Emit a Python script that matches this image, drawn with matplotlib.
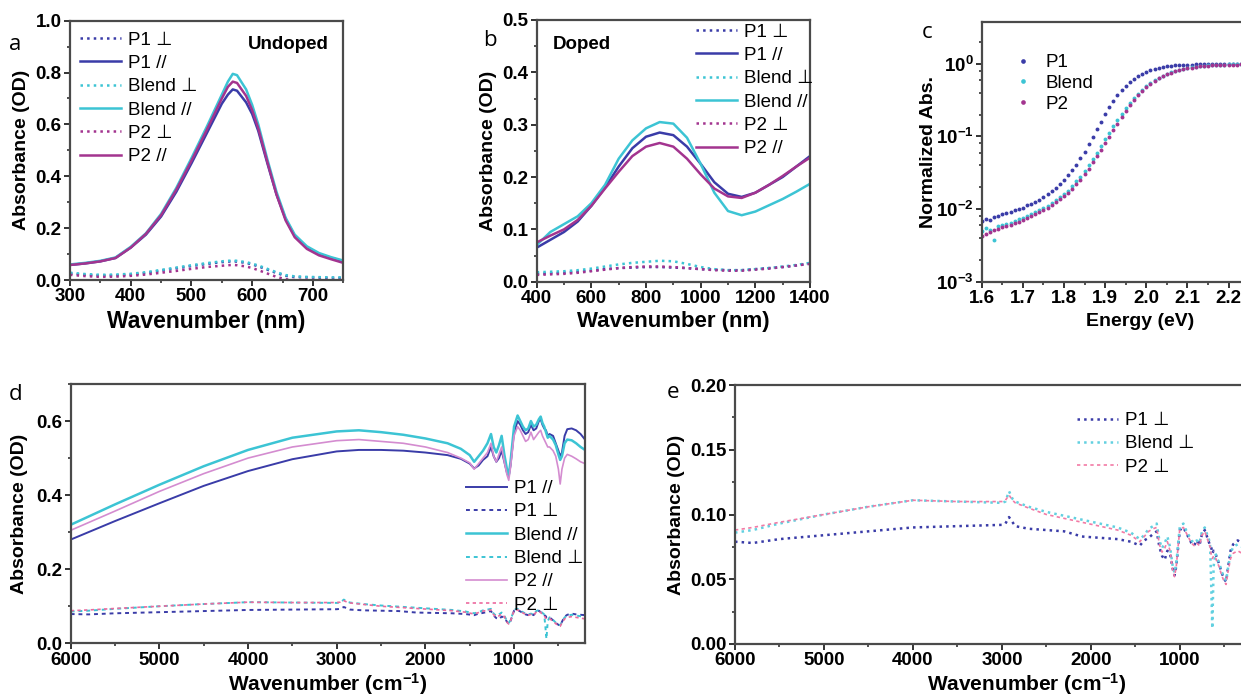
import numpy as np
import matplotlib
matplotlib.use("Agg")
import matplotlib.pyplot as plt
from matplotlib.ticker import MultipleLocator, LogLocator, NullFormatter

# ============================================================
# DATA
# ============================================================
# --- a: undoped UV-vis ---
a_wl = [300, 325, 350, 375, 400, 425, 450, 475, 500, 525, 550, 560, 568, 575, 590, 600, 610, 625, 640, 655, 670, 690, 710, 730, 750]
a_p1_par = [.058, .064, .072, .085, .125, .175, .245, .340, .450, .565, .680, .715, .735, .730, .685, .640, .575, .450, .330, .235, .170, .125, .100, .085, .072]
a_blend_par = [.060, .066, .074, .087, .128, .180, .255, .355, .470, .590, .715, .765, .795, .790, .735, .675, .600, .465, .340, .240, .175, .130, .104, .088, .075]
a_p2_par = [.058, .064, .072, .085, .125, .178, .250, .348, .460, .578, .700, .745, .765, .760, .710, .655, .585, .455, .330, .230, .165, .120, .095, .080, .066]
a_p1_perp = [.025, .020, .017, .018, .021, .027, .036, .045, .054, .062, .069, .071, .072, .071, .066, .060, .053, .040, .027, .016, .012, .010, .009, .008, .008]
a_blend_perp = [.028, .023, .020, .021, .024, .030, .039, .048, .057, .065, .072, .074, .075, .074, .069, .063, .056, .043, .030, .019, .014, .012, .011, .010, .010]
a_p2_perp = [.020, .015, .012, .013, .016, .021, .028, .035, .043, .050, .055, .057, .058, .057, .052, .046, .038, .025, .012, .003, 0.0, 0.0, 0.0, 0.0, 0.0]

# --- b: doped UV-vis-NIR ---
b_wl = [400, 450, 500, 550, 600, 650, 700, 750, 800, 850, 900, 950, 1000, 1050, 1100, 1150, 1200, 1250, 1300, 1350, 1400]
b_p1_par = [0.065, 0.080, 0.095, 0.115, 0.145, 0.180, 0.220, 0.255, 0.277, 0.285, 0.280, 0.258, 0.225, 0.190, 0.168, 0.162, 0.170, 0.185, 0.200, 0.220, 0.240]
b_blend_par = [0.070, 0.095, 0.110, 0.125, 0.150, 0.185, 0.235, 0.270, 0.293, 0.305, 0.302, 0.275, 0.225, 0.170, 0.135, 0.127, 0.134, 0.146, 0.158, 0.172, 0.187]
b_p2_par = [0.075, 0.088, 0.100, 0.118, 0.145, 0.178, 0.210, 0.240, 0.258, 0.265, 0.258, 0.235, 0.205, 0.178, 0.163, 0.160, 0.170, 0.185, 0.202, 0.220, 0.237]
b_p1_perp = [0.015, 0.016, 0.017, 0.019, 0.021, 0.024, 0.026, 0.027, 0.028, 0.028, 0.027, 0.026, 0.024, 0.023, 0.022, 0.022, 0.024, 0.026, 0.028, 0.031, 0.035]
b_blend_perp = [0.018, 0.019, 0.020, 0.022, 0.025, 0.029, 0.033, 0.036, 0.038, 0.040, 0.039, 0.034, 0.028, 0.024, 0.022, 0.022, 0.024, 0.026, 0.029, 0.032, 0.036]
b_p2_perp = [0.013, 0.014, 0.015, 0.017, 0.020, 0.023, 0.026, 0.028, 0.029, 0.029, 0.028, 0.026, 0.024, 0.022, 0.021, 0.021, 0.023, 0.025, 0.028, 0.031, 0.034]

# --- c: normalized absorption edge ---
c_energy = [1.60, 1.61, 1.62, 1.63, 1.64, 1.65, 1.66, 1.67, 1.68, 1.69,
            1.70, 1.71, 1.72, 1.73, 1.74, 1.75, 1.76, 1.77, 1.78, 1.79,
            1.80, 1.81, 1.82, 1.83, 1.84, 1.85, 1.86, 1.87, 1.88, 1.89,
            1.90, 1.91, 1.92, 1.93, 1.94, 1.95, 1.96, 1.97, 1.98, 1.99,
            2.00, 2.01, 2.02, 2.03, 2.04, 2.05, 2.06, 2.07, 2.08, 2.09,
            2.10, 2.11, 2.12, 2.13, 2.14, 2.15, 2.16, 2.17, 2.18, 2.19,
            2.20, 2.21, 2.22, 2.23, 2.24, 2.25, 2.26, 2.27, 2.28, 2.29, 2.30]
c_p1 = [.0068, .0072, .0070, .0078, .0080, .0085, .0088, .0092, .0098, .0100,
        .0104, .0112, .0118, .0125, .0135, .0148, .0160, .0175, .0195, .0220,
        .0250, .0290, .0340, .0410, .0500, .0620, .0780, .0980, .125, .160,
        .205, .255, .310, .370, .435, .500, .565, .625, .680, .730,
        .775, .815, .850, .878, .900, .920, .935, .948, .958, .966,
        .972, .977, .981, .985, .988, .990, .992, .994, .995, .996,
        .997, .998, .999, 1.0, 1.0, 1.0, 1.0, 1.0, 1.0, 1.0, 1.0]
c_blend = [.0050, .0055, .0052, .0037, .0058, .0060, .0062, .0065, .0068, .0072,
           .0076, .0080, .0085, .0090, .0096, .0103, .0110, .0120, .0132, .0145,
           .0160, .0180, .0205, .0240, .0280, .0330, .0400, .0490, .0600, .0740,
           .0910, .112, .138, .168, .205, .245, .290, .340, .390, .440,
           .490, .540, .590, .635, .680, .720, .760, .795, .825, .852,
           .875, .895, .912, .927, .940, .950, .958, .965, .971, .976,
           .980, .984, .987, .990, .992, .994, .996, .997, .998, .999, 1.0]
c_p2 = [.0042, .0046, .0048, .0052, .0054, .0056, .0058, .0061, .0064, .0067,
        .0071, .0075, .0080, .0085, .0091, .0097, .0104, .0113, .0124, .0136,
        .0150, .0168, .0190, .0220, .0255, .0300, .0360, .0440, .0540, .0660,
        .0800, .0990, .122, .150, .185, .225, .270, .320, .372, .425,
        .478, .530, .580, .628, .672, .714, .752, .788, .818, .845,
        .868, .888, .905, .920, .932, .942, .950, .957, .963, .968,
        .972, .975, .978, .980, .982, .984, .986, .988, .990, .991, .992]

# --- d/e: polarized FTIR ---
par_wn = [6000, 5500, 5000, 4500, 4000, 3500, 3000, 2750, 2500, 2250, 2000, 1750, 1600, 1500, 1450, 1400, 1350, 1300,
          1260, 1230, 1200, 1170, 1140, 1110, 1080, 1060, 1040, 1000, 960, 930, 900, 870, 840, 810, 780, 750, 720,
          700, 680, 660, 640, 620, 600, 560, 530, 500, 480, 460, 430, 400, 350, 300, 250, 200]
ir_p1_par = [.280, .330, .378, .425, .465, .497, .518, .522, .522, .520, .515, .508, .498, .485, .472, .480, .495, .505,
             .530, .505, .490, .500, .520, .490, .460, .450, .480, .570, .600, .590, .575, .565, .570, .590, .575, .580, .600,
             .605, .590, .580, .575, .560, .565, .560, .540, .520, .505, .515, .560, .578, .580, .575, .565, .550]
ir_blend_par = [.320, .375, .428, .478, .522, .555, .572, .575, .570, .563, .553, .540, .525, .508, .490, .505, .520, .540,
                .565, .530, .515, .535, .560, .510, .470, .455, .490, .585, .615, .600, .585, .575, .580, .600, .585, .590, .605,
                .612, .595, .585, .570, .555, .560, .550, .535, .510, .495, .505, .540, .550, .548, .540, .530, .522]
ir_p2_par = [.305, .357, .410, .458, .500, .530, .547, .550, .545, .540, .530, .515, .500, .487, .470, .485, .500, .515,
             .540, .505, .490, .510, .530, .490, .455, .440, .475, .560, .585, .575, .560, .545, .550, .570, .550, .560, .570,
             .575, .560, .550, .540, .530, .530, .520, .505, .470, .430, .470, .500, .510, .505, .498, .490, .485]

perp_wn = [6000, 5800, 5500, 5000, 4500, 4000, 3500, 3000, 2960, 2920, 2880, 2850, 2700, 2500, 2300, 2100, 1900, 1700,
           1550, 1450, 1400, 1350, 1300, 1260, 1230, 1200, 1170, 1140, 1110, 1080, 1060, 1040, 1000, 960, 930, 900,
           870, 840, 810, 780, 750, 720, 700, 680, 660, 645, 635, 620, 600, 580, 560, 530, 500, 480, 460, 430, 400,
           350, 300, 250, 200]
ir_p1_perp = [.079, .078, .081, .084, .087, .090, .091, .092, .093, .098, .094, .091, .089, .088, .087, .083, .082, .081,
              .079, .076, .080, .082, .085, .087, .075, .068, .065, .072, .070, .058, .053, .060, .088, .090, .086, .082,
              .078, .076, .080, .076, .085, .088, .084, .080, .076, .074, .070, .072, .070, .066, .062, .055, .050, .048,
              .058, .072, .077, .080, .078, .077, .076]
ir_blend_perp = [.086, .088, .093, .100, .106, .111, .110, .109, .110, .118, .112, .110, .106, .102, .099, .096, .093, .090,
                 .086, .081, .084, .089, .091, .093, .080, .074, .078, .083, .075, .060, .055, .062, .091, .093, .088, .084,
                 .080, .078, .080, .078, .087, .090, .086, .082, .078, .040, .012, .060, .070, .066, .063, .056, .051, .049,
                 .058, .070, .075, .077, .075, .073, .072]
ir_p2_perp = [.088, .090, .094, .100, .106, .111, .110, .110, .111, .115, .111, .109, .105, .100, .097, .094, .091, .088,
              .084, .079, .083, .087, .089, .090, .077, .071, .074, .079, .072, .057, .052, .060, .089, .090, .086, .082,
              .078, .076, .078, .076, .084, .087, .083, .079, .075, .068, .066, .068, .067, .063, .060, .053, .048, .046,
              .055, .066, .070, .072, .070, .068, .066]

# ============================================================
# STYLE
# ============================================================
plt.rcParams['font.family'] = ['Liberation Sans', 'DejaVu Sans']
plt.rcParams['font.weight'] = 'bold'
plt.rcParams['axes.labelweight'] = 'bold'
plt.rcParams['mathtext.default'] = 'regular'
plt.rcParams['axes.linewidth'] = 1.6
plt.rcParams['axes.edgecolor'] = '#4a4a4a'

C_P1 = '#3a3ca8'
C_BLEND = '#3cc4d4'
C_P2 = '#a3348f'
C_P2_LIGHT = '#d48cd0'
C_P2_PINK = '#ec6a9e'

W, H = 1241, 696
fig = plt.figure(figsize=(W / 100, H / 100), dpi=100)


def add_ax(l, r, t, b):
    return fig.add_axes([l / W, 1 - b / H, (r - l) / W, (b - t) / H])


def style(ax, xmaj, xmin, ymaj=None, ymin=None, tick=13.5):
    ax.xaxis.set_major_locator(MultipleLocator(xmaj))
    ax.xaxis.set_minor_locator(MultipleLocator(xmin))
    if ymaj is not None:
        ax.yaxis.set_major_locator(MultipleLocator(ymaj))
        ax.yaxis.set_minor_locator(MultipleLocator(ymin))
    ax.tick_params(which='major', direction='out', length=4, width=1.4, labelsize=tick,
                   top=False, right=False, color='#333333', pad=2)
    ax.tick_params(which='minor', direction='out', length=2.5, width=1.2,
                   top=False, right=False, color='#333333')


leg_prop = dict(family=['Liberation Sans', 'DejaVu Sans'], weight='normal', size=13.5)


def put_legend(ax, x, y, **kw):
    opts = dict(frameon=False, prop=leg_prop, handlelength=2.2, handletextpad=0.35,
                labelspacing=0.33, borderpad=0, borderaxespad=0)
    opts.update(kw)
    return ax.legend(loc='upper left', bbox_to_anchor=(x / W, 1 - y / H),
                     bbox_transform=fig.transFigure, **opts)


def letter(x, y, s):
    fig.text(x / W, 1 - y / H, s, fontsize=16, fontweight='normal', va='center', ha='left',
             family=['Open Sans', 'DejaVu Sans'])


# ============================================================
# a. Undoped
# ============================================================
ax = add_ax(70, 343.3, 20.7, 280)
ax.plot(a_wl, a_p1_perp, ':', color=C_P1, lw=1.8, label='P1 ⊥')
ax.plot(a_wl, a_p1_par, '-', color=C_P1, lw=1.8, label='P1 //')
ax.plot(a_wl, a_blend_perp, ':', color=C_BLEND, lw=1.8, label='Blend ⊥')
ax.plot(a_wl, a_blend_par, '-', color=C_BLEND, lw=1.8, label='Blend //')
ax.plot(a_wl, a_p2_perp, ':', color=C_P2, lw=1.8, label='P2 ⊥')
ax.plot(a_wl, a_p2_par, '-', color=C_P2, lw=1.8, label='P2 //')
ax.set_xlim(300, 750)
ax.set_ylim(0, 1.0)
style(ax, 100, 50, 0.2, 0.1)
ax.set_xlabel('Wavenumber (nm)', fontsize=16.5, labelpad=3)
ax.set_ylabel('Absorbance (OD)', fontsize=14, labelpad=4)
ax.text(0.652, 0.91, 'Undoped', transform=ax.transAxes, fontsize=13.5, fontweight='bold', va='center')
put_legend(ax, 80, 31.5)
letter(9, 44, 'a')

# ============================================================
# b. Doped
# ============================================================
ax = add_ax(536.7, 810, 20, 281.7)
ax.plot(b_wl, b_p1_perp, ':', color=C_P1, lw=1.8, label='P1 ⊥')
ax.plot(b_wl, b_p1_par, '-', color=C_P1, lw=1.8, label='P1 //')
ax.plot(b_wl, b_blend_perp, ':', color=C_BLEND, lw=1.8, label='Blend ⊥')
ax.plot(b_wl, b_blend_par, '-', color=C_BLEND, lw=1.8, label='Blend //')
ax.plot(b_wl, b_p2_perp, ':', color=C_P2, lw=1.8, label='P2 ⊥')
ax.plot(b_wl, b_p2_par, '-', color=C_P2, lw=1.8, label='P2 //')
ax.set_xlim(400, 1400)
ax.set_ylim(0, 0.5)
style(ax, 200, 100, 0.1, 0.05)
ax.set_xlabel('Wavenumber (nm)', fontsize=16, labelpad=3)
ax.set_ylabel('Absorbance (OD)', fontsize=14, labelpad=4)
ax.text(0.06, 0.908, 'Doped', transform=ax.transAxes, fontsize=13.5, fontweight='bold', va='center')
put_legend(ax, 696, 23.5)
letter(483, 40, 'b')

# ============================================================
# c. Normalized absorption (log)
# ============================================================
ax = add_ax(981.7, 1261.5, 21.7, 281.7)
ax.plot(c_energy, c_p1, 'o', color=C_P1, ms=2.8, mec='none', label='P1')
ax.plot(c_energy, c_blend, 'o', color=C_BLEND, ms=2.8, mec='none', label='Blend')
ax.plot(c_energy, c_p2, 'o', color=C_P2, ms=2.8, mec='none', label='P2')
ax.set_yscale('log')
ax.set_xlim(1.6, 2.28)
ax.set_ylim(1e-3, 3.8)
style(ax, 0.1, 0.05)
ax.yaxis.set_major_locator(LogLocator(base=10, numticks=10))
ax.yaxis.set_minor_locator(LogLocator(base=10, subs=(2, 4, 6, 8), numticks=10))
ax.yaxis.set_minor_formatter(NullFormatter())
ax.set_xlabel('Energy (eV)', fontsize=14)
ax.xaxis.set_label_coords((1140 - 981.7) / 279.8, -0.12)
ax.set_ylabel('Normalized Abs.', fontsize=14, labelpad=-1)
put_legend(ax, 1014, 54, handlelength=1.0, handletextpad=0.7, markerscale=1.2, labelspacing=0.2)
letter(922, 33, 'c')

# ============================================================
# d. FTIR, both polarizations
# ============================================================
ax = add_ax(70.7, 585, 384, 643.3)
ax.plot(par_wn, ir_p1_par, '-', color=C_P1, lw=1.4, label='P1 //')
ax.plot(perp_wn, ir_p1_perp, '--', color=C_P1, lw=1.4, dashes=(2, 2), label='P1 ⊥')
ax.plot(par_wn, ir_blend_par, '-', color=C_BLEND, lw=1.8, label='Blend //')
ax.plot(perp_wn, ir_blend_perp, '--', color=C_BLEND, lw=1.4, dashes=(2, 2), label='Blend ⊥')
ax.plot(par_wn, ir_p2_par, '-', color=C_P2_LIGHT, lw=1.2, label='P2 //')
ax.plot(perp_wn, ir_p2_perp, '--', color=C_P2_PINK, lw=1.2, dashes=(2, 2), label='P2 ⊥')
ax.set_xlim(6000, 200)
ax.set_ylim(0, 0.7)
style(ax, 1000, 500, 0.2, 0.1)
ax.set_xlabel('Wavenumber (cm$^{-1}$)', fontsize=15, labelpad=2)
ax.set_ylabel('Absorbance (OD)', fontsize=14, labelpad=6)
put_legend(ax, 466, 480)
letter(9, 395, 'd')

# ============================================================
# e. FTIR, perpendicular only
# ============================================================
ax = add_ax(735, 1251, 385, 644)
ax.plot(perp_wn, ir_p1_perp, ':', color=C_P1, lw=1.8, label='P1 ⊥')
ax.plot(perp_wn, ir_blend_perp, ':', color='#62d0e0', lw=1.8, label='Blend ⊥')
ax.plot(perp_wn, ir_p2_perp, '--', color='#f27aa5', lw=1.2, dashes=(2, 2), label='P2 ⊥')
ax.set_xlim(6000, 200)
ax.set_ylim(0, 0.2)
style(ax, 1000, 500, 0.05, 0.025)
ax.set_xlabel('Wavenumber (cm$^{-1}$)', fontsize=15)
ax.xaxis.set_label_coords((1027 - 735) / 516, -0.105)
ax.set_ylabel('Absorbance (OD)', fontsize=14, labelpad=4)
put_legend(ax, 1077, 412)
letter(667, 392, 'e')

fig.savefig('out.png', dpi=100)
